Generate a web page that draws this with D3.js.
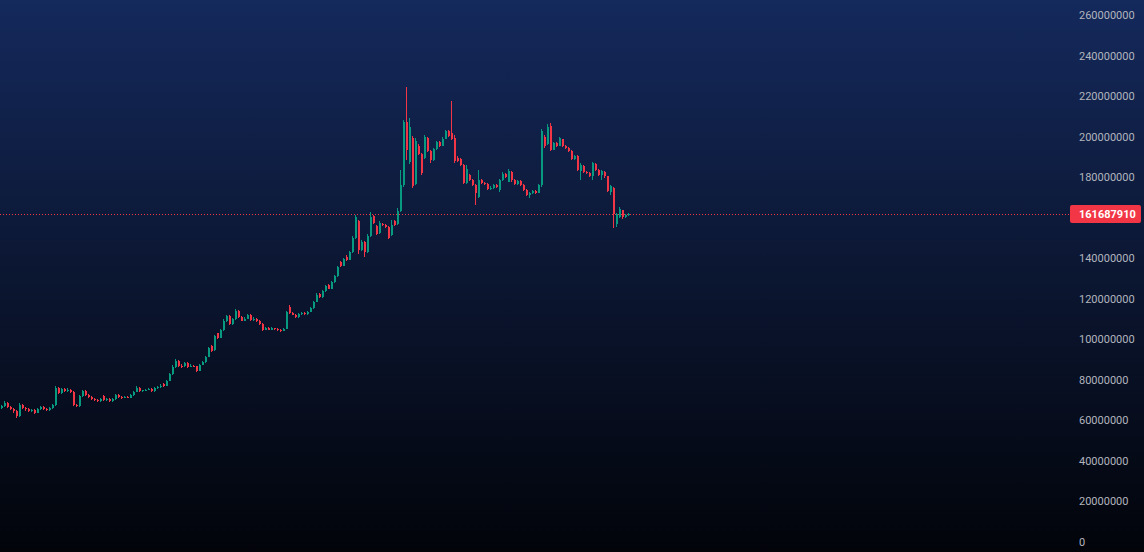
<!DOCTYPE html>
<html>
<head>
<meta charset="utf-8">
<script src="https://cdn.jsdelivr.net/npm/d3@7"></script>
<style>
html,body{margin:0;padding:0;background:#030509;overflow:hidden;}
svg{display:block;}
</style>
</head>
<body>
<svg id="chart" width="1144" height="552"></svg>
<script>
// Values in millions
const UNIT = 1e6;
const opens = [66.0,67.0,68.5,66.5,65.5,64.5,62.0,67.5,66.0,65.5,64.5,65.0,63.8,65.5,66.5,65.8,65.0,66.0,67.5,76.0,
73.5,75.5,74.5,75.0,74.0,67.5,67.0,72.0,74.5,72.5,71.5,70.5,70.0,69.5,71.8,70.0,70.5,69.5,70.5,72.5,
71.5,71.0,71.5,71.2,72.5,74.0,76.0,74.5,74.8,75.2,75.6,74.5,76.0,76.5,77.8,77.0,79.5,83.0,86.5,89.5,
87.0,86.8,88.3,86.5,87.0,86.8,84.5,87.5,88.8,91.5,96.5,94.5,103.0,100.8,104.5,109.0,111.5,107.5,109.8,114.0,
111.0,109.2,110.2,112.0,109.5,110.2,109.0,107.5,104.8,105.6,104.8,105.5,105.0,104.6,104.3,105.2,116.0,112.8,112.2,110.8,
112.4,113.0,112.3,113.6,115.2,118.5,122.5,120.8,123.6,127.0,125.0,128.3,131.0,138.0,136.3,140.8,139.2,143.0,150.0,158.5,
144.0,148.2,143.0,151.0,160.8,156.0,152.4,157.0,156.4,155.4,151.5,158.6,157.0,163.5,176.0,207.0,187.5,199.5,176.5,195.5,
191.5,189.5,199.5,193.0,188.5,193.8,197.2,195.6,199.0,202.8,202.0,199.5,189.5,189.0,186.0,177.0,181.0,178.8,176.0,170.0,
178.6,177.0,176.8,174.2,174.8,176.2,173.5,178.4,181.5,177.8,182.5,178.4,176.5,178.0,176.2,173.8,171.2,172.2,173.0,172.4,
176.2,200.0,196.5,205.2,193.6,196.8,195.6,198.6,195.4,194.6,193.0,189.0,190.4,183.0,185.6,182.6,182.0,180.8,186.4,183.4,
181.2,182.6,180.4,172.5,174.5,157.0,160.5,163.8,160.2,161.2];
const highs = [67.8,69.5,69.0,67.0,66.0,65.0,68.5,68.0,66.8,66.0,65.6,65.4,66.0,67.0,67.0,66.2,66.5,68.0,76.8,76.5,
76.2,76.0,75.8,75.5,74.5,68.2,72.5,75.0,74.8,73.0,72.0,71.0,70.5,71.0,72.5,71.0,71.0,71.0,73.0,72.8,
72.0,72.0,71.8,73.0,74.5,76.8,76.4,75.2,75.6,76.0,76.0,76.5,77.0,77.8,78.2,80.0,83.6,87.2,90.2,90.0,
87.8,88.8,88.6,87.6,87.4,87.0,88.0,89.4,92.0,96.2,97.0,102.0,103.2,105.0,109.8,112.2,111.8,110.5,114.8,114.3,
111.4,110.8,112.4,112.6,110.8,110.5,109.3,107.8,106.2,106.0,106.0,105.8,105.4,104.9,105.7,114.2,116.8,113.4,112.6,113.0,
113.6,113.4,114.2,115.8,119.0,122.6,123.0,124.2,127.0,127.4,128.9,131.6,136.2,138.6,140.2,141.6,143.6,151.0,161.5,159.0,
149.0,148.6,151.8,162.8,161.4,156.4,158.2,157.4,156.8,155.8,158.9,159.0,164.8,183.5,208.2,224.5,209.0,200.5,199.5,196.5,
192.0,200.8,199.9,193.5,194.5,197.8,197.6,199.6,203.5,203.2,217.5,200.8,190.6,189.4,186.4,186.0,181.5,179.2,176.4,183.5,
179.2,177.8,177.0,175.4,176.8,176.6,179.0,182.5,182.0,184.2,183.0,179.0,178.6,178.4,176.6,174.2,172.8,173.6,173.6,176.8,
204.0,200.6,206.0,206.7,197.4,197.2,199.8,199.0,195.8,195.0,193.4,191.0,190.8,186.8,186.0,183.2,182.4,187.4,186.8,183.8,
183.6,183.0,180.8,176.2,175.2,162.5,165.5,164.0,161.8,162.2];
const lows = [65.5,66.5,66.0,65.0,63.8,61.2,61.8,65.5,64.8,64.0,64.0,63.3,63.5,65.0,65.2,64.5,64.6,65.6,67.0,73.0,
73.0,74.0,74.0,73.5,67.0,66.5,66.8,71.5,72.0,71.0,70.0,69.5,69.0,69.2,69.8,69.6,69.0,69.2,70.2,71.0,
70.6,70.8,70.8,71.0,72.2,73.8,74.0,74.0,74.5,74.9,74.2,74.2,75.6,76.2,76.6,76.8,79.2,82.6,86.0,86.5,
86.0,86.5,86.0,86.2,86.3,84.0,84.2,87.2,88.5,91.2,93.5,94.2,100.0,100.5,104.2,108.6,107.0,107.2,109.5,110.5,
108.8,108.9,109.9,109.0,109.2,108.6,107.0,104.2,104.4,104.4,104.5,104.6,104.2,103.8,104.0,105.0,112.3,111.8,110.3,110.5,
112.0,111.9,112.0,113.3,115.0,118.2,120.4,120.5,123.3,124.6,124.8,128.0,130.8,135.8,136.0,138.8,139.0,142.6,149.6,142.0,
143.5,140.8,142.6,150.6,156.8,151.5,152.0,155.8,155.0,149.6,151.0,156.0,156.6,162.8,175.0,188.5,186.5,174.5,176.0,191.0,
181.0,189.0,192.5,187.0,188.0,193.4,195.0,195.2,198.6,200.0,198.2,187.2,187.5,185.4,176.4,176.6,178.2,175.5,166.5,169.7,
176.4,176.2,173.8,173.6,174.4,174.8,172.8,178.0,179.8,177.4,177.8,176.0,176.2,175.6,173.2,170.6,169.6,171.8,171.8,172.0,
175.0,194.6,196.0,193.0,193.2,195.0,195.2,195.0,194.0,192.5,188.4,188.6,183.0,178.6,182.0,181.4,180.0,178.8,183.0,180.6,
178.8,179.8,172.6,171.0,155.0,155.5,159.8,159.6,159.8,160.8];
const closes = [67.0,68.5,66.5,65.5,64.5,62.0,67.5,66.0,65.5,64.5,65.0,63.8,65.5,66.5,65.8,65.0,66.0,67.5,76.0,73.5,
75.5,74.5,75.0,74.0,67.5,67.0,72.0,74.5,72.5,71.5,70.5,70.0,69.5,70.5,70.0,70.5,69.5,70.5,72.5,71.5,
71.0,71.5,71.2,72.5,74.0,76.0,74.5,74.8,75.2,75.6,74.5,76.0,76.5,77.2,77.0,79.5,83.0,86.5,89.5,87.0,
86.8,88.3,86.5,87.0,86.8,84.5,87.5,88.8,91.5,95.5,94.0,101.5,100.8,104.5,109.0,111.5,107.5,109.8,114.0,111.0,
109.2,110.2,111.8,109.5,110.2,109.0,107.5,104.8,105.6,104.8,105.5,105.0,104.6,104.3,105.2,113.5,112.8,112.2,110.8,112.4,
113.0,112.3,113.6,115.2,118.5,122.0,120.8,123.6,126.3,125.0,128.3,131.0,135.5,136.3,139.5,139.2,143.0,150.0,160.5,144.0,
148.2,143.0,151.0,160.5,157.2,152.0,157.6,156.2,155.4,150.2,156.4,156.5,163.5,176.0,207.0,193.4,204.6,175.5,198.0,191.5,
182.0,199.8,193.0,188.5,193.8,197.2,195.6,199.0,202.8,200.5,198.8,188.0,188.0,186.0,177.0,183.8,178.8,176.0,172.0,178.6,
177.0,176.8,174.2,174.8,176.2,175.2,178.4,181.5,180.2,183.0,178.4,176.5,178.0,176.2,173.8,171.2,172.2,173.0,172.4,176.2,
203.0,195.2,204.6,193.6,196.8,195.6,199.2,195.4,194.6,193.0,189.0,190.4,183.6,186.2,182.6,182.0,180.6,186.8,183.4,181.2,
182.8,180.4,173.0,175.6,162.0,162.0,164.2,160.2,161.2,161.68791];
const lastPrice = 161687910;
// 160000000 is hidden behind the last-price label in the reference
const yTicks = [0,20000000,40000000,60000000,80000000,100000000,120000000,140000000,180000000,200000000,220000000,240000000,260000000];

const W = 1144, H = 552;
const svg = d3.select("#chart");
const defs = svg.append("defs");
const grad = defs.append("linearGradient").attr("id","bg").attr("x1",0).attr("y1",0).attr("x2",0).attr("y2",1);
grad.append("stop").attr("offset","0%").attr("stop-color","#14295c");
grad.append("stop").attr("offset","50%").attr("stop-color","#0b1631");
grad.append("stop").attr("offset","100%").attr("stop-color","#02040a");
svg.append("rect").attr("width",W).attr("height",H).attr("fill","url(#bg)");

const data = closes.map((c,i)=>({i, o:opens[i]*UNIT, h:highs[i]*UNIT, l:lows[i]*UNIT, c:c*UNIT}));
const x = d3.scaleLinear().domain([0, data.length-1]).range([1, 628]);
const y = d3.scaleLinear().domain([0, 260000000]).range([542, 15]);

const up = "#089981", down = "#f23645";
const g = svg.append("g").attr("shape-rendering","crispEdges");
const candles = g.selectAll("g.c").data(data).join("g").attr("class","c");
candles.append("rect")
  .attr("x", d=>Math.round(x(d.i)))
  .attr("width",1)
  .attr("y", d=>y(d.h))
  .attr("height", d=>Math.max(1, y(d.l)-y(d.h)))
  .attr("fill", d=>d.c>=d.o?up:down);
candles.append("rect")
  .attr("x", d=>Math.round(x(d.i)))
  .attr("width",2)
  .attr("y", d=>y(Math.max(d.o,d.c)))
  .attr("height", d=>Math.max(1, Math.abs(y(d.o)-y(d.c))))
  .attr("fill", d=>d.c>=d.o?up:down);

// price line
const py = Math.round(y(lastPrice))+0.5;
svg.append("line").attr("x1",0).attr("x2",1070).attr("y1",py).attr("y2",py)
  .attr("stroke",down).attr("stroke-width",1).attr("stroke-dasharray","1,2");

// right axis
const axis = d3.axisRight(y).tickValues(yTicks).tickSize(0).tickPadding(0).tickFormat(d3.format("d"));
const ag = svg.append("g").attr("transform","translate(1079,0)").call(axis);
ag.select(".domain").remove();
ag.selectAll("text").attr("fill","#b2b5be").attr("font-family","Roboto, 'Open Sans', sans-serif").attr("font-size","11px");

// price label
svg.append("rect").attr("x",1070).attr("y",py-9.5).attr("width",71).attr("height",18).attr("rx",2).attr("fill",down);
svg.append("text").attr("x",1079).attr("y",py).attr("dy","0.35em")
  .attr("fill","#ffffff").attr("font-family","Roboto, 'Open Sans', sans-serif").attr("font-size","11px").attr("font-weight","bold")
  .text(d3.format("d")(lastPrice));
</script>
</body>
</html>
